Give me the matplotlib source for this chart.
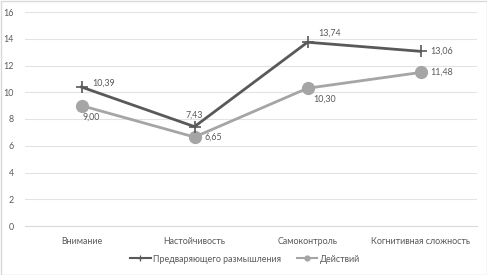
import matplotlib
matplotlib.use("Agg")
import matplotlib.pyplot as plt
from matplotlib.patches import Rectangle
from matplotlib.lines import Line2D

categories = ["Внимание", "Настойчивость", "Самоконтроль", "Когнитивная сложность"]
series1_name = "Предваряющего размышления"
series1 = [10.39, 7.43, 13.74, 13.06]
series2_name = "Действий"
series2 = [9.00, 6.65, 10.30, 11.48]
yticks = [0, 2, 4, 6, 8, 10, 12, 14, 16]

plt.rcParams['font.family'] = ['Lato', 'DejaVu Sans']
txt = '#595959'
fs = 6.4

W, H = 487, 275
fig = plt.figure(figsize=(W/100, H/100), dpi=100)
ax = fig.add_axes([25/W, 1-226/H, 452/W, 214/H])

x = list(range(len(categories)))
c1 = '#595959'
c2 = '#a5a5a5'
ax.plot(x, series2, color=c2, lw=2, marker='o', ms=8.5, mfc=c2, mec=c2, label=series2_name, zorder=3)
ax.plot(x, series1, color=c1, lw=2, marker='+', ms=9, mew=1.2, label=series1_name, zorder=4)

fmt = lambda v: f"{v:.2f}".replace('.', ',')
offs1 = [(11, 4, 'left', 'center'), (0, 7, 'center', 'bottom'), (11, 9, 'left', 'center'), (10, 0, 'left', 'center')]
offs2 = [(1, -7, 'left', 'top'), (10, 0, 'left', 'center'), (6, -6, 'left', 'top'), (10, 0, 'left', 'center')]
for i, v in enumerate(series1):
    dx, dy, ha, va = offs1[i]
    ax.annotate(fmt(v), (i, v), xytext=(dx, dy), textcoords='offset pixels', ha=ha, va=va, fontsize=fs, color=txt)
for i, v in enumerate(series2):
    dx, dy, ha, va = offs2[i]
    ax.annotate(fmt(v), (i, v), xytext=(dx, dy), textcoords='offset pixels', ha=ha, va=va, fontsize=fs, color=txt)

ax.set_xlim(-0.5, 3.5)
ax.set_ylim(0, 16)
ax.set_yticks(yticks)
ax.set_xticks(x)
ax.set_xticklabels(categories)
ax.grid(axis='y', color='#e3e3e3', lw=0.8)
ax.set_axisbelow(True)
for s in ax.spines.values():
    s.set_visible(False)
ax.spines['bottom'].set_visible(True)
ax.spines['bottom'].set_color('#d9d9d9')
ax.tick_params(axis='both', length=0, labelsize=fs, colors=txt)
ax.tick_params(axis='x', pad=8)
ax.tick_params(axis='y', pad=8)

handles = [Line2D([], [], color=c1, lw=1.5, marker='+', ms=5, mew=0.9),
           Line2D([], [], color=c2, lw=1.5, marker='o', ms=3.5, mfc=c2, mec=c2)]
leg = fig.legend(handles, [series1_name, series2_name], loc='center', bbox_to_anchor=(245/W, 1-259/H), ncol=2,
                 frameon=False, fontsize=fs, handlelength=2.3, columnspacing=1.8, handletextpad=0.25)
for t in leg.get_texts():
    t.set_color(txt)

fig.patches.append(Rectangle((0.5/W, 0.5/H), 1-1/W, 1-1/H, transform=fig.transFigure, fill=False, ec='#d9d9d9', lw=1))

fig.savefig('out.png', dpi=100)
